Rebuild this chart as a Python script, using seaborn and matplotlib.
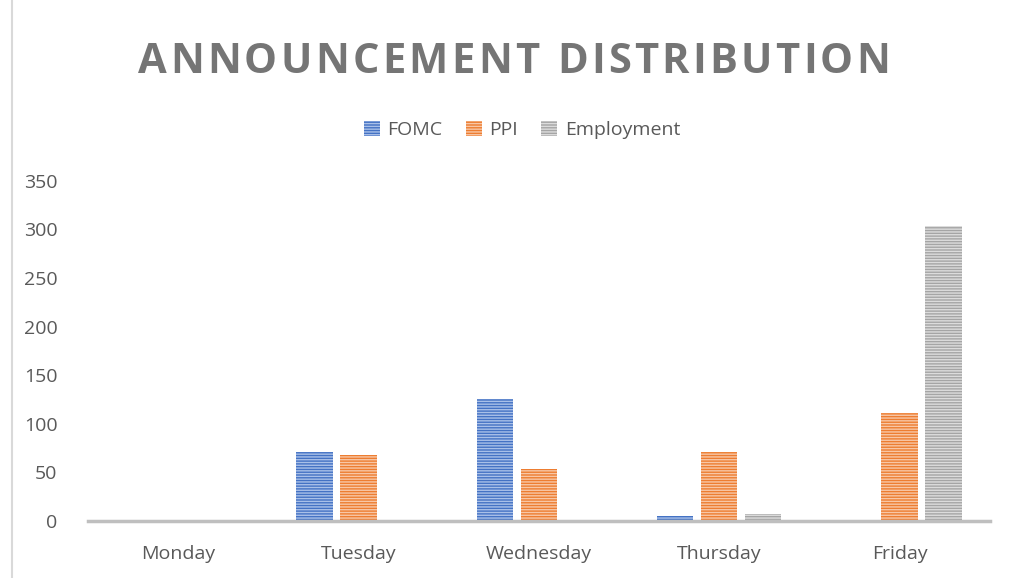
import numpy as np
import pandas as pd
import matplotlib.pyplot as plt
import seaborn as sns
from matplotlib.patches import Patch
from matplotlib.lines import Line2D

days = ['Monday', 'Tuesday', 'Wednesday', 'Thursday', 'Friday']
series = ['FOMC', 'PPI', 'Employment']
fomc = [0, 71, 126, 5, 0]
ppi = [0, 68, 54, 71, 111]
employment = [0, 0, 0, 7, 304]

colors = ['#4472C4', '#ED7D31', '#A5A5A5']
stripe = ['#A9C0E8', '#F8C7A6', '#DCDCDC']

df = pd.DataFrame({
    'day': days * 3,
    'series': [s for s in series for _ in days],
    'value': fomc + ppi + employment,
})

sns.set_style('white')
plt.rcParams['font.family'] = ['Open Sans', 'DejaVu Sans']
plt.rcParams['hatch.linewidth'] = 1.0

fig = plt.figure(figsize=(10.14, 5.78), dpi=100)
ax = fig.add_axes([0.0868, 0.0986, 0.8892, 0.5886])

sns.barplot(data=df, x='day', y='value', hue='series', order=days,
            hue_order=series, palette=colors, width=0.733, gap=0.18,
            ax=ax, legend=False, saturation=1)

for cont, c, sc in zip(ax.containers, colors, stripe):
    for bar in cont:
        bar.set_hatch('------')
        bar.set_edgecolor(sc)
        bar.set_linewidth(0)

ax.set_ylim(0, 350)
ax.set_yticks(range(0, 351, 50))
ax.set_xlabel('')
ax.set_ylabel('')
for s in ['top', 'right', 'left']:
    ax.spines[s].set_visible(False)
ax.spines['bottom'].set_color('#BFBFBF')
ax.spines['bottom'].set_linewidth(2.5)
ax.tick_params(axis='both', length=0, labelsize=14, labelcolor='#595959')
ax.tick_params(axis='y', pad=22)
ax.tick_params(axis='x', pad=17)

# letter-spaced title: place each character separately
title = 'ANNOUNCEMENT DISTRIBUTION'
spacing = 3.3  # extra px between letters
renderer = fig.canvas.get_renderer()
chars = [fig.text(0, 0.892, ch, ha='left', va='center', fontsize=30,
                  fontweight='bold', color='#757575') for ch in title]
widths = [t.get_window_extent(renderer).width if ch != ' ' else 0
          for t, ch in zip(chars, title)]
space_w = fig.text(0, 0, 'A A', fontsize=30, fontweight='bold')
sw = space_w.get_window_extent(renderer).width
aa = fig.text(0, 0, 'AA', fontsize=30, fontweight='bold')
sw -= aa.get_window_extent(renderer).width
space_w.remove()
aa.remove()
widths = [w if ch != ' ' else sw for w, ch in zip(widths, title)]
total = sum(widths) + spacing * (len(title) - 1)
x = 514 - total / 2
W = fig.get_figwidth() * fig.dpi
for t, w in zip(chars, widths):
    t.set_x(x / W)
    x += w + spacing

handles = [Patch(facecolor=c, edgecolor=sc, hatch='------', linewidth=0)
           for c, sc in zip(colors, stripe)]
fig.legend(handles, series, loc='center', bbox_to_anchor=(0.515, 0.775),
           ncol=3, frameon=False, fontsize=14, labelcolor='#595959',
           handlelength=0.8, handleheight=0.8, handletextpad=0.4,
           columnspacing=1.2)

fig.add_artist(Line2D([0.012, 0.012], [0, 1], transform=fig.transFigure,
                      color='#D9D9D9', linewidth=1.5))

fig.savefig('out.png', dpi=100)
